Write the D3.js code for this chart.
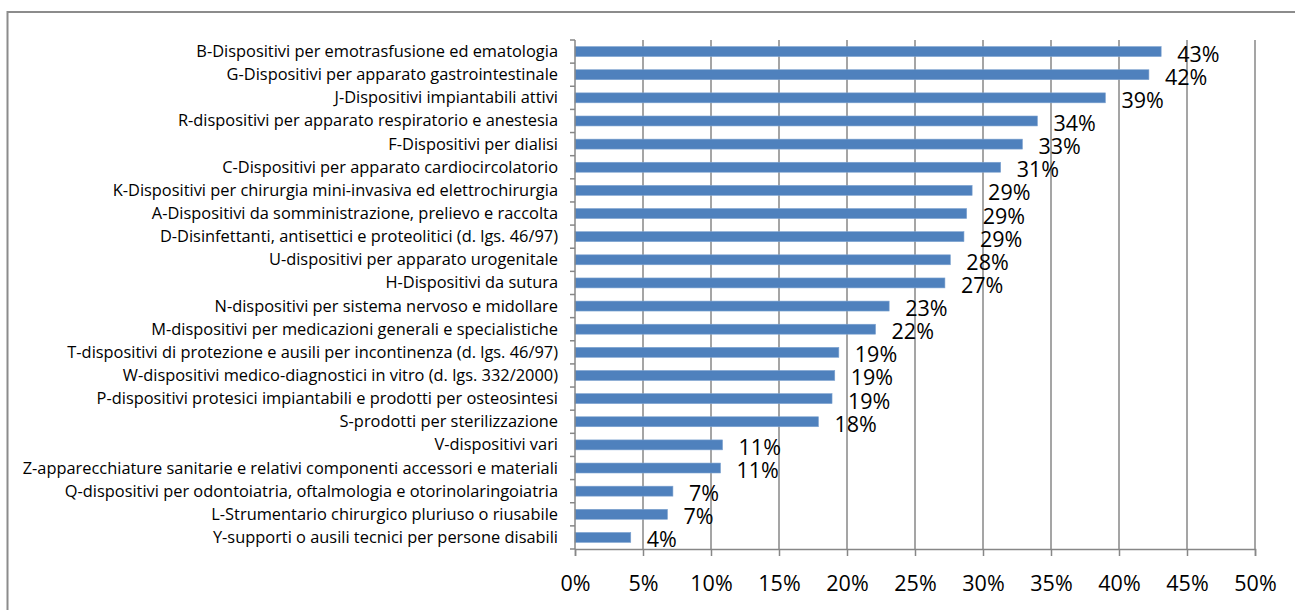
<!DOCTYPE html>
<html>
  <head>
    <meta charset="utf-8">
    <script src="https://d3js.org/d3.v7.min.js"></script>
    <style type="text/css">
body{
	margin: 0;
	background: white;
}
svg{
	display: block;
}
    </style>
  </head>
  <body>
	<script>
		// categories, top to bottom
		var categories = [
			"B-Dispositivi per emotrasfusione ed ematologia",
			"G-Dispositivi per apparato gastrointestinale",
			"J-Dispositivi impiantabili attivi",
			"R-dispositivi per apparato respiratorio e anestesia",
			"F-Dispositivi per dialisi",
			"C-Dispositivi per apparato cardiocircolatorio",
			"K-Dispositivi per chirurgia mini-invasiva ed elettrochirurgia",
			"A-Dispositivi da somministrazione, prelievo e raccolta ",
			"D-Disinfettanti, antisettici e proteolitici (d. lgs. 46/97)",
			"U-dispositivi per apparato urogenitale",
			"H-Dispositivi da sutura",
			"N-dispositivi per sistema nervoso e midollare",
			"M-dispositivi per medicazioni generali e specialistiche",
			"T-dispositivi di protezione e ausili per incontinenza (d. lgs. 46/97)",
			"W-dispositivi medico-diagnostici in vitro (d. lgs. 332/2000)",
			"P-dispositivi protesici impiantabili e prodotti per osteosintesi",
			"S-prodotti per sterilizzazione",
			"V-dispositivi vari",
			"Z-apparecchiature sanitarie e relativi componenti accessori e materiali",
			"Q-dispositivi per odontoiatria, oftalmologia e otorinolaringoiatria",
			"L-Strumentario chirurgico pluriuso o riusabile",
			"Y-supporti o ausili tecnici per persone disabili"
		];
		// share in percent
		var values = [43.1, 42.2, 39.0, 34.0, 32.9, 31.3, 29.2, 28.8, 28.6, 27.6, 27.2,
			23.1, 22.1, 19.4, 19.1, 18.9, 17.9, 10.85, 10.7, 7.2, 6.8, 4.1];
		var xTicks = [0, 5, 10, 15, 20, 25, 30, 35, 40, 45, 50];

		var width = 1295, height = 610;
		var pLeft = 575, pRight = 1255, pTop = 40, pBottom = 549;
		var gridColor = "#878787";
		var font = "'Open Sans', sans-serif";

		var svg = d3.select("body").append("svg")
			.attr("width", width)
			.attr("height", height);

		// outer frame
		svg.append("rect")
			.attr("x", 7.5).attr("y", 12)
			.attr("width", 1300).attr("height", 620)
			.attr("fill", "none")
			.attr("stroke", "#8c8c8c")
			.attr("stroke-width", 2);

		var x = d3.scaleLinear().domain([0, 50]).range([pLeft, pRight]);
		var yb = d3.scaleBand().domain(categories).range([pTop, pBottom]);
		var y = d3.scaleBand().domain(categories).range([pTop, pBottom]).paddingInner(0.57).paddingOuter(0.285);

		// vertical gridlines
		svg.selectAll(".grid")
			.data(xTicks.slice(1))
			.enter().append("line")
			.attr("class", "grid")
			.attr("x1", function(d){ return x(d); })
			.attr("x2", function(d){ return x(d); })
			.attr("y1", pTop).attr("y2", pBottom)
			.attr("stroke", gridColor)
			.attr("stroke-width", 1.5);

		// bars
		svg.selectAll(".bar")
			.data(values)
			.enter().append("rect")
			.attr("class", "bar")
			.attr("x", x(0))
			.attr("y", function(d, i){ return y(categories[i]); })
			.attr("width", function(d){ return x(d) - x(0); })
			.attr("height", y.bandwidth())
			.attr("fill", "#4f81bd")
			.attr("stroke", "#7ea3d0")
			.attr("stroke-width", 0.6);

		// value labels
		var fmt = d3.format(".0%");
		svg.selectAll(".val-label")
			.data(values)
			.enter().append("text")
			.attr("class", "val-label")
			.attr("x", function(d){ return x(d) + 16; })
			.attr("y", function(d, i){ return y(categories[i]) + y.bandwidth() / 2 + 10; })
			.style("font-family", font)
			.style("font-size", "21.5px")
			.attr("fill", "#000")
			.text(function(d){ return fmt(d / 100); });

		// y axis with ticks between categories
		svg.append("line")
			.attr("x1", pLeft).attr("x2", pLeft)
			.attr("y1", pTop).attr("y2", pBottom)
			.attr("stroke", gridColor).attr("stroke-width", 1.5);
		svg.selectAll(".ytick")
			.data(d3.range(categories.length + 1))
			.enter().append("line")
			.attr("class", "ytick")
			.attr("x1", pLeft - 5).attr("x2", pLeft)
			.attr("y1", function(i){ return pTop + i * yb.step(); })
			.attr("y2", function(i){ return pTop + i * yb.step(); })
			.attr("stroke", gridColor).attr("stroke-width", 1.5);

		svg.selectAll(".cat-label")
			.data(categories)
			.enter().append("text")
			.attr("class", "cat-label")
			.attr("text-anchor", "end")
			.attr("x", pLeft - 17)
			.attr("y", function(d){ return yb(d) + yb.bandwidth() / 2 + 5.5; })
			.style("font-family", font)
			.style("font-size", "16.4px")
			.attr("fill", "#000")
			.text(function(d){ return d; });

		// x axis
		var xAxis = d3.axisBottom(x).tickValues(xTicks).tickSize(7).tickPadding(15)
			.tickFormat(function(d){ return d + "%"; });
		var gx = svg.append("g")
			.attr("transform", "translate(0," + pBottom + ")")
			.call(xAxis);
		gx.select(".domain").attr("stroke", gridColor).attr("stroke-width", 1.5);
		gx.selectAll(".tick line").attr("stroke", gridColor).attr("stroke-width", 1.5);
		gx.selectAll(".tick text")
			.attr("dy", null)
			.attr("y", 42)
			.style("font-family", font)
			.style("font-size", "21.5px")
			.attr("fill", "#000");
	</script>
  </body>
</html>
